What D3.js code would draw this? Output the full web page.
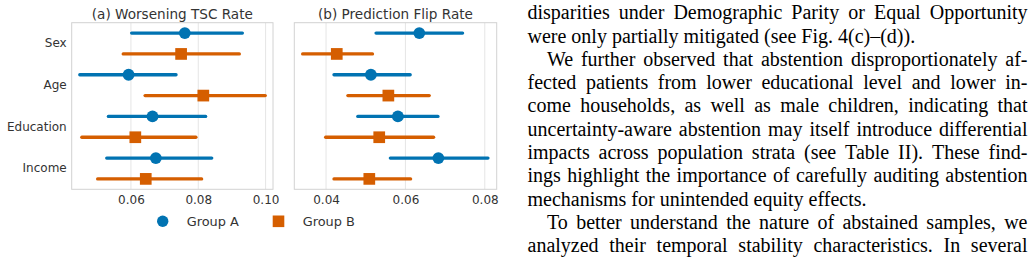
<!DOCTYPE html>
<html><head><meta charset="utf-8">
<script src="https://cdn.jsdelivr.net/npm/d3@7"></script>
<style>
html,body{margin:0;padding:0;background:#fff;}
svg{display:block;}
</style></head>
<body>
<svg id="c" width="1035" height="263"></svg>
<script>
// ---------- data ----------
const categories = ["Sex", "Age", "Education", "Income"];
const groups = ["Group A", "Group B"];
const panelTitles = ["(a) Worsening TSC Rate", "(b) Prediction Flip Rate"];

const tscA_mean = [0.0760, 0.0593, 0.0664, 0.0674];
const tscA_lo   = [0.0602, 0.0448, 0.0533, 0.0528];
const tscA_hi   = [0.0931, 0.0734, 0.0822, 0.0840];
const tscB_mean = [0.0749, 0.0815, 0.0613, 0.0644];
const tscB_lo   = [0.0577, 0.0642, 0.0454, 0.0501];
const tscB_hi   = [0.0922, 0.0999, 0.0793, 0.0810];

const flipA_mean = [0.0635, 0.0513, 0.0581, 0.0683];
const flipA_lo   = [0.0526, 0.0420, 0.0480, 0.0562];
const flipA_hi   = [0.0744, 0.0612, 0.0682, 0.0808];
const flipB_mean = [0.0427, 0.0557, 0.0534, 0.0509];
const flipB_lo   = [0.0341, 0.0455, 0.0399, 0.0420];
const flipB_hi   = [0.0517, 0.0660, 0.0671, 0.0613];

const tscTicks  = [0.06, 0.08, 0.10];
const flipTicks = [0.04, 0.06, 0.08];
const tscDomain  = [0.0424, 0.1022];
const flipDomain = [0.0320, 0.0830];

const paragraphLines = [
  ["disparities under Demographic Parity or Equal Opportunity", false, true],
  ["were only partially mitigated (see Fig. 4(c)–(d)).", false, false],
  ["We further observed that abstention disproportionately af-", true, true],
  ["fected patients from lower educational level and lower in-", false, true],
  ["come households, as well as male children, indicating that", false, true],
  ["uncertainty-aware abstention may itself introduce differential", false, true],
  ["impacts across population strata (see Table II). These find-", false, true],
  ["ings highlight the importance of carefully auditing abstention", false, true],
  ["mechanisms for unintended equity effects.", false, false],
  ["To better understand the nature of abstained samples, we", true, true],
  ["analyzed their temporal stability characteristics. In several", false, true]
];

// ---------- styles ----------
const colA = "#0173b2", colB = "#d55e00";
const textCol = "#333333";
const font = "DejaVu Sans";

const svg = d3.select("#c");

const panels = [
  {title: panelTitles[0], x0: 71.7, x1: 273, domain: tscDomain, ticks: tscTicks, showY: true,
   series: [{mean: tscA_mean, lo: tscA_lo, hi: tscA_hi, col: colA, shape: "circle"},
            {mean: tscB_mean, lo: tscB_lo, hi: tscB_hi, col: colB, shape: "square"}]},
  {title: panelTitles[1], x0: 294.3, x1: 496.7, domain: flipDomain, ticks: flipTicks, showY: false,
   series: [{mean: flipA_mean, lo: flipA_lo, hi: flipA_hi, col: colA, shape: "circle"},
            {mean: flipB_mean, lo: flipB_lo, hi: flipB_hi, col: colB, shape: "square"}]}
];
const yTop = 22.7, yBot = 189.3;

const yBand = d3.scaleBand().domain(categories).range([yTop, yBot]).paddingInner(0).paddingOuter(0);
const ySub = d3.scalePoint().domain(groups).range([0.25, 0.75]);

panels.forEach(p => {
  const x = d3.scaleLinear().domain(p.domain).range([p.x0, p.x1]);
  const g = svg.append("g");
  // grid
  g.selectAll("line.grid").data(p.ticks).enter().append("line")
    .attr("x1", d => x(d)).attr("x2", d => x(d))
    .attr("y1", yTop).attr("y2", yBot)
    .attr("stroke", "#e5e5e5").attr("stroke-width", 1);
  // frame
  g.append("rect").attr("x", p.x0).attr("y", yTop)
    .attr("width", p.x1 - p.x0).attr("height", yBot - yTop)
    .attr("fill", "none").attr("stroke", "#d2d2d2").attr("stroke-width", 1);
  // x axis ticks labels
  const ax = d3.axisBottom(x).tickValues(p.ticks).tickSize(0).tickPadding(0).tickFormat(d3.format(".2f"));
  const axg = g.append("g").attr("transform", `translate(0,${yBot})`).call(ax);
  axg.select(".domain").remove();
  axg.selectAll("text").attr("font-family", font).attr("font-size", 12)
    .attr("fill", textCol).attr("dy", null).attr("y", 15);
  // y labels
  if (p.showY) {
    const ay = d3.axisLeft(yBand).tickSize(0).tickPadding(0);
    const ayg = g.append("g").attr("transform", `translate(${p.x0 - 5},0)`).call(ay);
    ayg.select(".domain").remove();
    ayg.selectAll("text").attr("font-family", font).attr("font-size", 12).attr("fill", textCol);
  }
  // title
  g.append("text").attr("x", (p.x0 + p.x1) / 2).attr("y", 18.5)
    .attr("text-anchor", "middle").attr("font-family", font).attr("font-size", 13.6)
    .attr("fill", textCol).text(p.title);
  // series
  p.series.forEach((s, si) => {
    const yy = c => yBand(c) + yBand.bandwidth() * ySub(groups[si]);
    g.selectAll(null).data(categories).enter().append("line")
      .attr("x1", (c, i) => x(s.lo[i])).attr("x2", (c, i) => x(s.hi[i]))
      .attr("y1", yy).attr("y2", yy)
      .attr("stroke", s.col).attr("stroke-width", 3.3).attr("stroke-linecap", "round");
    if (s.shape === "circle") {
      g.selectAll(null).data(categories).enter().append("circle")
        .attr("cx", (c, i) => x(s.mean[i])).attr("cy", yy).attr("r", 5.9).attr("fill", s.col);
    } else {
      const sz = 11.7;
      g.selectAll(null).data(categories).enter().append("rect")
        .attr("x", (c, i) => x(s.mean[i]) - sz / 2).attr("y", c => yy(c) - sz / 2)
        .attr("width", sz).attr("height", sz).attr("fill", s.col);
    }
  });
});

// legend
const lg = svg.append("g");
lg.append("circle").attr("cx", 162.7).attr("cy", 221.3).attr("r", 5.7).attr("fill", colA);
lg.append("text").attr("x", 186.7).attr("y", 225.8).attr("font-family", font).attr("font-size", 12.9)
  .attr("fill", textCol).text(groups[0]);
lg.append("rect").attr("x", 272.7).attr("y", 215.5).attr("width", 11.6).attr("height", 11.6).attr("fill", colB);
lg.append("text").attr("x", 302.7).attr("y", 225.8).attr("font-family", font).attr("font-size", 12.9)
  .attr("fill", textCol).text(groups[1]);

// paragraph text (justified lines)
const tx0 = 527.5, tx1 = 1027.5, indent = 19.5, base0 = 19.2, lead = 23.3, fsize = 20;
const tg = svg.append("g").attr("font-family", "Liberation Serif").attr("font-size", fsize).attr("fill", "#000");
const measure = tg.append("text").attr("x", -1000).attr("y", -1000);
function w(str) { measure.text(str); return measure.node().getComputedTextLength(); }
paragraphLines.forEach((ln, i) => {
  const [str, ind, just] = ln;
  const y = base0 + i * lead;
  const start = tx0 + (ind ? indent : 0);
  if (!just) {
    tg.append("text").attr("x", start).attr("y", y).text(str);
  } else {
    const words = str.split(" ");
    const widths = words.map(w);
    const total = d3.sum(widths);
    const gap = (tx1 - start - total) / (words.length - 1);
    let cx = start;
    words.forEach((wd, k) => {
      tg.append("text").attr("x", cx).attr("y", y).text(wd);
      cx += widths[k] + gap;
    });
  }
});
measure.remove();
</script>
</body></html>
